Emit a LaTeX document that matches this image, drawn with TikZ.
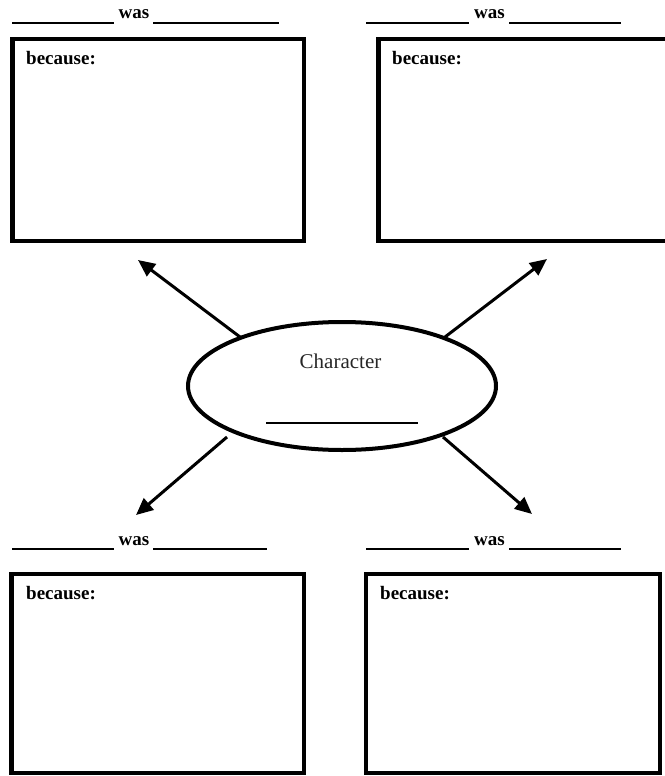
\documentclass[tikz,border=0pt]{standalone}
\usepackage{fontspec}
\setmainfont{Liberation Serif}
\usetikzlibrary{shapes.geometric,arrows.meta}
\begin{document}
\begin{tikzpicture}[x=1pt,y=1pt,
  box/.style={draw,line width=4.5pt,rectangle,inner sep=0pt},
  lbl/.style={font=\bfseries\fontsize{19}{22}\selectfont,anchor=base west,inner sep=0pt},
  wastxt/.style={font=\bfseries\fontsize{19}{22}\selectfont,anchor=base,inner sep=0pt},
  blank/.style={line width=2pt},
  arr/.style={line width=3pt,-{Triangle[length=17pt,width=15pt]}}]
\useasboundingbox (0,0) rectangle (664,-776);
% boxes
\node[box,minimum width=291.5pt,minimum height=202pt] (tl) at (158.25,-140) {};
\node[box,minimum width=291.5pt,minimum height=202pt] (tr) at (524.25,-140) {};
\node[box,minimum width=292.5pt,minimum height=199pt] (bl) at (157.75,-673.5) {};
\node[box,minimum width=294pt,minimum height=199pt] (br) at (513,-673.5) {};
% because labels
\node[lbl] (btl) at (26,-65) {because:};
\node[lbl] (btr) at (392,-65) {because:};
\node[lbl] (bbl) at (26,-599) {because:};
\node[lbl] (bbr) at (380,-599) {because:};
% was rows
\node[wastxt] (wtl) at (134,-19) {was};
\node[wastxt] (wtr) at (489.5,-19) {was};
\node[wastxt] (wbl) at (134,-545) {was};
\node[wastxt] (wbr) at (489.5,-545) {was};
\coordinate (a1) at (12,-23); \coordinate (a2) at (114,-23);
\coordinate (a3) at (153,-23); \coordinate (a4) at (279,-23);
\coordinate (b1) at (366,-23); \coordinate (b2) at (469,-23);
\coordinate (b3) at (509,-23); \coordinate (b4) at (621,-23);
\coordinate (c1) at (12,-549); \coordinate (c2) at (114,-549);
\coordinate (c3) at (153,-549); \coordinate (c4) at (267,-549);
\coordinate (d1) at (366,-549); \coordinate (d2) at (469,-549);
\coordinate (d3) at (509,-549); \coordinate (d4) at (621,-549);
\draw[blank] (a1) -- (a2); \draw[blank] (a3) -- (a4);
\draw[blank] (b1) -- (b2); \draw[blank] (b3) -- (b4);
\draw[blank] (c1) -- (c2); \draw[blank] (c3) -- (c4);
\draw[blank] (d1) -- (d2); \draw[blank] (d3) -- (d4);
% central ellipse
\node[ellipse,draw,line width=4pt,minimum width=308pt,minimum height=128pt,inner sep=0pt] (ell) at (342,-386) {};
\node[font=\fontsize{21}{24}\selectfont,anchor=base,inner sep=0pt,text=black!85] (chr) at (340.5,-368) {Character};
\coordinate (n1) at (266,-423); \coordinate (n2) at (418,-423);
\draw[line width=2.5pt] (n1) -- (n2);
% arrows
\coordinate (sUL) at (240,-337); \coordinate (tUL) at (138,-260);
\coordinate (sUR) at (445,-337); \coordinate (tUR) at (547,-259);
\coordinate (sLL) at (227,-437); \coordinate (tLL) at (136,-515);
\coordinate (sLR) at (443,-437); \coordinate (tLR) at (532,-514);
\draw[arr] (sUL) -- (tUL);
\draw[arr] (sUR) -- (tUR);
\draw[arr] (sLL) -- (tLL);
\draw[arr] (sLR) -- (tLR);
\end{tikzpicture}
\end{document}
